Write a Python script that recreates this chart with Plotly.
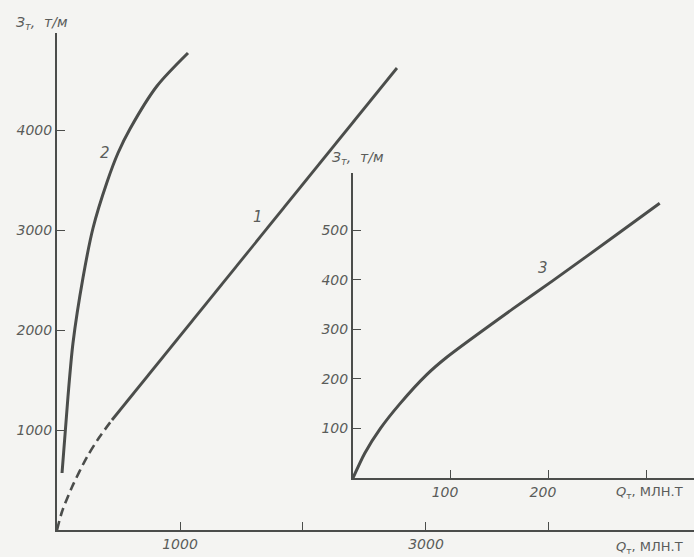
import plotly.graph_objects as go

# Curve 1: specific reserve vs. total output (main axes), dashed start then straight
c1_dash_q = [0, 40, 122, 244, 340, 447]
c1_dash_e = [0, 180, 430, 730, 920, 1100]
c1_q = [447, 821, 2764]
c1_e = [1100, 1670, 4620]

# Curve 2 (main axes)
c2_q = [41, 89, 130, 211, 293, 407, 496, 593, 813, 1065]
c2_e = [570, 1330, 1870, 2520, 3020, 3480, 3770, 4010, 4440, 4770]

# Curve 3 (inset axes)
c3_q = [0, 12, 28, 48, 75, 96, 163, 204, 272, 313]
c3_e = [0, 50, 100, 150, 208, 244, 341, 398, 495, 554]

main_xticks = [1000, 3000]
main_xminor = [2000, 4000]
main_yticks = [1000, 2000, 3000, 4000]
inset_xticks = [100, 200]
inset_xminor = [300]
inset_yticks = [100, 200, 300, 400, 500]

INK = "#4b4d4b"
TXT = "#5a5c5a"
BG = "#f4f4f2"
tickfont = dict(family="DejaVu Sans", size=14, color=TXT, style="italic")

fig = go.Figure()
fig.add_trace(go.Scatter(x=c1_dash_q, y=c1_dash_e, mode="lines",
                         line=dict(color=INK, width=2.6, dash="9px,5px", shape="spline", smoothing=0.8),
                         xaxis="x", yaxis="y", showlegend=False))
fig.add_trace(go.Scatter(x=c1_q, y=c1_e, mode="lines", line=dict(color=INK, width=2.8),
                         xaxis="x", yaxis="y", showlegend=False))
fig.add_trace(go.Scatter(x=c2_q, y=c2_e, mode="lines",
                         line=dict(color=INK, width=3, shape="spline", smoothing=0.8),
                         xaxis="x", yaxis="y", showlegend=False))
fig.add_trace(go.Scatter(x=c3_q, y=c3_e, mode="lines",
                         line=dict(color=INK, width=3, shape="spline", smoothing=0.7),
                         xaxis="x2", yaxis="y2", showlegend=False))

W, H = 694, 557
def px(x):
    return x / W
def py(y):
    return 1 - y / H

axis_common = dict(showline=True, linecolor=INK, linewidth=2, ticks="inside", ticklen=8,
                   tickcolor=INK, tickwidth=1.2, showgrid=False, zeroline=False,
                   tickfont=tickfont, fixedrange=True)
minor_style = dict(ticks="inside", ticklen=8, tickcolor=INK, tickwidth=1.2, showgrid=False)

fig.update_layout(
    width=W, height=H,
    margin=dict(l=0, r=0, t=0, b=0),
    paper_bgcolor=BG, plot_bgcolor="rgba(0,0,0,0)",
    xaxis=dict(domain=[px(57), 1], range=[0, 5179], tickvals=main_xticks,
               minor=dict(tickvals=main_xminor, **minor_style),
               anchor="y", **axis_common),
    yaxis=dict(domain=[py(530), py(33)], range=[0, 4970], tickvals=main_yticks,
               anchor="x", **axis_common),
    xaxis2=dict(domain=[px(353), 1], range=[0, 348], tickvals=inset_xticks,
                minor=dict(tickvals=inset_xminor, **minor_style), ticklabelshift=-6,
                anchor="y2", **axis_common),
    yaxis2=dict(domain=[py(478), py(173)], range=[0, 615], tickvals=inset_yticks,
                anchor="x2", **axis_common),
)

lab = dict(family="DejaVu Sans", size=14, color=TXT, style="italic")
xlab = dict(family="DejaVu Sans", size=13, color=TXT)
ann = [
    dict(x=px(14), y=py(23), text="З<sub>т</sub>,  т/м", xanchor="left", font=lab),
    dict(x=px(330), y=py(158), text="З<sub>т</sub>,  т/м", xanchor="left", font=lab),
    dict(x=px(614), y=py(492), text="<i>Q</i><sub>т</sub>, МЛН.Т", xanchor="left", font=xlab),
    dict(x=px(614), y=py(547), text="<i>Q</i><sub>т</sub>, МЛН.Т", xanchor="left", font=xlab),
]
for a in ann:
    fig.add_annotation(xref="paper", yref="paper", showarrow=False, yanchor="middle", **a)

# curve numbers
num = dict(family="DejaVu Sans", size=15, color=TXT, style="italic")
fig.add_annotation(x=1634, y=3130, xref="x", yref="y", text="1", showarrow=False, font=num)
fig.add_annotation(x=390, y=3770, xref="x", yref="y", text="2", showarrow=False, font=num)
fig.add_annotation(x=194, y=423, xref="x2", yref="y2", text="3", showarrow=False, font=num)

fig.write_html("out.html")
